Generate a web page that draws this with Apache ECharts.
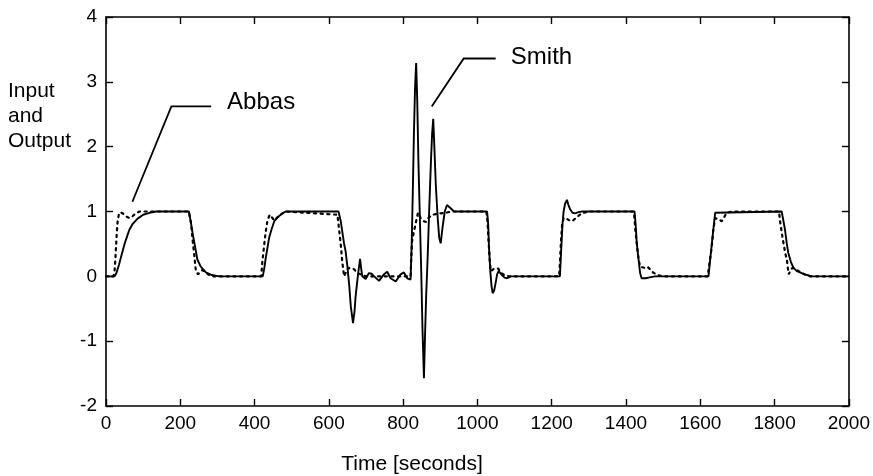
<!DOCTYPE html>
<html><head><meta charset="utf-8">
<script src="https://cdn.jsdelivr.net/npm/echarts@6/dist/echarts.min.js"></script>
<style>html,body{margin:0;padding:0;background:#fff}#c{width:873px;height:476px}</style>
</head><body><div id="c"></div>
<script>
// ---- data (time in seconds, value) ----
const xTickValues = [0, 200, 400, 600, 800, 1000, 1200, 1400, 1600, 1800, 2000];
const yTickValues = [-2, -1, 0, 1, 2, 3, 4];

// solid curve (Smith)
const smithPoints = [
  [0,0],[23,0],[28,0.05],[35,0.18],[41,0.31],[50,0.5],[57,0.62],[63,0.72],[72,0.81],[85,0.89],[100,0.95],[117,0.98],[135,1.0],
  [223,1.0],[228,0.85],[233,0.67],[240,0.45],[246,0.26],[255,0.15],[269,0.06],[285,0.02],[305,0],
  [422,0],[426,0.12],[430,0.28],[435,0.45],[439,0.59],[446,0.73],[453,0.85],[459,0.89],[466,0.93],[475,0.97],[484,1.0],
  [626,1.0],[632,0.85],[641,0.5],[645,0.39],[650,0.15],[655,-0.15],[659,-0.46],[665,-0.72],[669,-0.55],[672,-0.31],[676,-0.1],
  [679,0.05],[684,0.27],[687,0.12],[690,0.0],[699,-0.04],[708,0.05],[715,0.04],[722,0.0],[735,-0.07],[748,0.03],[757,0.07],
  [766,-0.03],[780,-0.08],[793,0.03],[802,0.06],[811,-0.03],[820,-0.05],
  [823,0.5],[826,1.3],[829,2.2],[832,2.9],[835,3.29],[838,2.7],[841,1.8],[845,0.9],[849,0.0],[852,-0.8],[856,-1.57],[859,-0.9],
  [862,-0.3],[866,0.3],[870,1.0],[875,1.8],[878,2.2],[881,2.43],[884,2.0],[888,1.4],[893,0.9],[897,0.6],[901,0.51],[906,0.75],
  [912,1.0],[918,1.1],[923,1.13],[928,1.05],[937,1.0],
  [1026,1.0],[1029,0.8],[1031,0.46],[1035,0.05],[1038,-0.15],[1041,-0.26],[1045,-0.22],[1049,-0.1],[1053,0.03],[1057,0.08],
  [1062,0.06],[1066,0.02],[1073,-0.02],[1080,-0.03],[1090,0.0],
  [1222,0.0],[1225,0.35],[1229,0.8],[1232,1.0],[1236,1.12],[1241,1.18],[1245,1.1],[1250,1.03],[1256,0.98],[1263,0.97],[1272,0.99],[1281,1.0],
  [1423,1.0],[1426,0.8],[1429,0.51],[1434,0.25],[1438,0.05],[1442,-0.03],[1447,-0.05],[1453,-0.03],[1460,-0.02],[1478,0.0],
  [1622,0.0],[1631,0.5],[1640,0.98],[1645,1.0],
  [1819,1.0],[1823,0.88],[1828,0.72],[1833,0.5],[1837,0.36],[1844,0.22],[1851,0.13],[1860,0.08],[1873,0.05],[1888,0.02],[1900,0.0],[2000,0.0]
];

// dotted curve (Abbas)
const abbasPoints = [
  [0,0],[20,0],[23,0.08],[25,0.25],[27,0.46],[29,0.66],[31,0.83],[34,0.94],[38,0.99],[42,1.0],[48,0.96],[55,0.92],[63,0.9],[72,0.93],[80,0.97],[90,1.0],
  [223,1.0],[229,0.82],[233,0.57],[238,0.31],[242,0.08],[248,0.03],[254,0.07],[260,0.1],[268,0.06],[278,0.02],[290,0.0],
  [418,0],[421,0.23],[426,0.49],[430,0.69],[435,0.87],[441,0.95],[444,0.97],[448,0.9],[453,0.86],[466,0.94],[484,1.0],
  [623,0.95],[627,0.75],[632,0.49],[636,0.23],[641,0.0],[646,0.06],[652,0.13],[660,0.12],[668,0.11],[676,0.05],[690,0.02],[700,0.0],
  [820,0.0],[822,0.3],[824,0.54],[829,0.69],[835,0.85],[840,0.98],[847,0.9],[855,0.85],[861,0.84],[868,0.9],[878,0.95],[900,0.97],[915,0.98],[930,1.0],
  [1024,1.0],[1027,0.85],[1030,0.55],[1033,0.25],[1036,0.08],[1040,0.05],[1045,0.12],[1050,0.15],[1056,0.12],[1062,0.06],[1072,0.02],[1085,0.0],
  [1220,0.0],[1222,0.2],[1225,0.55],[1228,0.8],[1232,0.9],[1238,0.9],[1245,0.87],[1255,0.85],[1265,0.9],[1280,0.97],[1300,1.0],
  [1420,1.0],[1423,0.9],[1425,0.72],[1430,0.45],[1434,0.26],[1438,0.15],[1443,0.13],[1450,0.13],[1457,0.15],[1463,0.12],[1470,0.07],[1485,0.02],[1500,0.0],
  [1620,0.0],[1626,0.26],[1631,0.46],[1635,0.72],[1640,0.9],[1648,0.88],[1658,0.85],[1671,0.98],[1685,1.0],
  [1812,1.0],[1815,0.84],[1820,0.65],[1824,0.51],[1829,0.35],[1833,0.26],[1836,0.12],[1838,0.03],[1842,0.08],[1848,0.13],[1855,0.12],[1865,0.08],[1880,0.03],[1895,0.0],[2000,0.0]
];

// annotation anchors, in data coordinates
const abbasLeader = [[71,1.15],[176,2.62],[283,2.62]];
const abbasLabelAt = [326,2.69];
const smithLeader = [[877,2.62],[963,3.36],[1049,3.36]];
const smithLabelAt = [1090,3.38];

const FONT = '"Liberation Sans", Arial, Helvetica, sans-serif';

const chart = echarts.init(document.getElementById('c'));
const axisLine = {show:true, onZero:false, lineStyle:{color:'#000', width:1.6}};
const tick = {show:true, inside:true, length:7, lineStyle:{color:'#000', width:1.4}};
const option = {
  animation:false,
  backgroundColor:'#fff',
  grid:{left:106, right:22, top:17, bottom:70, containLabel:false},
  xAxis:[
    {type:'value', min:0, max:2000, interval:200, position:'bottom',
     axisLine:axisLine, axisTick:tick, splitLine:{show:false},
     axisLabel:{color:'#000', fontSize:19, fontFamily:FONT, margin:8,
       formatter:v=> xTickValues.indexOf(v)>=0 ? String(v) : ''}},
    {type:'value', min:0, max:2000, interval:200, position:'top',
     axisLine:axisLine, axisTick:tick, splitLine:{show:false}, axisLabel:{show:false}}
  ],
  yAxis:[
    {type:'value', min:-2, max:4, interval:1, position:'left',
     axisLine:axisLine, axisTick:tick, splitLine:{show:false},
     axisLabel:{color:'#000', fontSize:19, fontFamily:FONT, margin:9,
       formatter:v=> yTickValues.indexOf(v)>=0 ? String(v) : ''}},
    {type:'value', min:-2, max:4, interval:1, position:'right',
     axisLine:axisLine, axisTick:tick, splitLine:{show:false}, axisLabel:{show:false}}
  ],
  series:[
    {name:'Abbas', type:'line', data:abbasPoints, showSymbol:false, symbol:'none', z:2,
     lineStyle:{color:'#000', width:2.2, type:[2.2,4.5], cap:'round'}},
    {name:'Smith', type:'line', data:smithPoints, showSymbol:false, symbol:'none', z:3,
     lineStyle:{color:'#000', width:1.9}}
  ]
};
chart.setOption(option);

const toPx = p => chart.convertToPixel({xAxisIndex:0, yAxisIndex:0}, p);
const a = abbasLeader.map(toPx), s = smithLeader.map(toPx);
const aT = toPx(abbasLabelAt), sT = toPx(smithLabelAt);
chart.setOption({
  graphic:[
    {type:'polyline', shape:{points:a}, style:{stroke:'#000', lineWidth:1.8, fill:null}, z:10},
    {type:'polyline', shape:{points:s}, style:{stroke:'#000', lineWidth:1.8, fill:null}, z:10},
    {type:'text', x:aT[0], y:aT[1], style:{text:'Abbas', font:'24px '+FONT, fill:'#000', textAlign:'left', textVerticalAlign:'middle'}, z:10},
    {type:'text', x:sT[0], y:sT[1], style:{text:'Smith', font:'24px '+FONT, fill:'#000', textAlign:'left', textVerticalAlign:'middle'}, z:10},
    {type:'text', x:8, y:116, style:{text:'Input\nand\nOutput', font:'21px '+FONT, lineHeight:25, fill:'#000', textAlign:'left', textVerticalAlign:'middle'}, z:10},
    {type:'text', x:412, y:464, style:{text:'Time [seconds]', font:'21px '+FONT, fill:'#000', textAlign:'center', textVerticalAlign:'middle'}, z:10}
  ]
});
</script>
</body></html>
